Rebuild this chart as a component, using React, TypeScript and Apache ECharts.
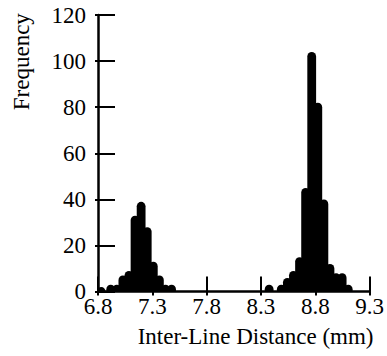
import React, { useEffect, useRef } from "react";
import * as echarts from "echarts";

// Bin centers (mm) and frequencies for the two clusters
const binCenters: number[] = [
  6.83, 6.917, 6.973, 7.029, 7.085, 7.141, 7.197, 7.253, 7.309, 7.365, 7.421, 7.477,
  8.375, 8.487, 8.543, 8.599, 8.655, 8.711, 8.767, 8.823, 8.879, 8.935, 8.991, 9.047, 9.103,
];
const frequencies: number[] = [
  0, 1, 1, 5, 7, 31, 37, 26, 11, 5, 1, 1,
  1, 1, 4, 7, 13, 43, 102, 80, 38, 10, 6, 6, 1,
];
const xTicks: number[] = [6.8, 7.3, 7.8, 8.3, 8.8, 9.3];
const yTicks: number[] = [0, 20, 40, 60, 80, 100, 120];

const FONT = "Liberation Serif";
const FS = 23;

export default function App() {
  const ref = useRef<HTMLDivElement>(null);
  useEffect(() => {
    if (!ref.current) return;
    const chart = echarts.init(ref.current, null, { renderer: "svg" });
    const data = binCenters.map((c, i) => [c, frequencies[i]]);
    const xMin = xTicks[0];
    const xMax = xTicks[xTicks.length - 1];
    const yMin = yTicks[0];
    const yMax = yTicks[yTicks.length - 1];
    const labelStyle = { fontFamily: FONT, fontSize: FS, color: "#000" };
    chart.setOption({
      animation: false,
      backgroundColor: "#fff",
      grid: { left: 98, right: 15, top: 15, bottom: 64.5, containLabel: false },
      xAxis: [
        {
          type: "value",
          min: xMin,
          max: xMax,
          interval: 0.5,
          splitLine: { show: false },
          axisLine: { show: true, onZero: false, lineStyle: { color: "#000", width: 2.5 } },
          axisTick: { show: true, inside: true, length: 15, lineStyle: { color: "#000", width: 2 } },
          axisLabel: { ...labelStyle, margin: 3, formatter: (v: number) => v.toFixed(1) },
        },
        {
          type: "value",
          position: "bottom",
          min: xMin,
          max: xMax,
          interval: 0.5,
          splitLine: { show: false },
          axisLine: { show: false },
          axisTick: { show: true, inside: false, length: 4, lineStyle: { color: "#000", width: 2 } },
          axisLabel: { show: false },
        },
      ],
      yAxis: [
        {
          type: "value",
          min: yMin,
          max: yMax,
          interval: 20,
          splitLine: { show: false },
          axisLine: { show: true, onZero: false, lineStyle: { color: "#000", width: 2.5 } },
          axisTick: { show: true, inside: true, length: 17, lineStyle: { color: "#000", width: 2 } },
          axisLabel: { ...labelStyle, margin: 12 },
        },
        {
          type: "value",
          position: "left",
          min: yMin,
          max: yMax,
          interval: 20,
          splitLine: { show: false },
          axisLine: { show: false },
          axisTick: { show: true, inside: false, length: 3, lineStyle: { color: "#000", width: 2 } },
          axisLabel: { show: false },
        },
      ],
      series: [
        {
          type: "custom",
          xAxisIndex: 0,
          yAxisIndex: 0,
          clip: true,
          data,
          renderItem: (params: any, api: any) => {
            const x = api.value(0);
            const v = api.value(1);
            const p0 = api.coord([x, 0]);
            const p1 = api.coord([x, v]);
            const y2 = p1[1] === p0[1] ? p0[1] - 0.01 : p1[1];
            return {
              type: "line",
              shape: { x1: p0[0], y1: p0[1], x2: p1[0], y2 },
              style: { stroke: "#000", lineWidth: 8.8, lineCap: "round" },
            };
          },
        },
      ],
      graphic: [
        {
          type: "text",
          x: 373.5,
          y: 336,
          style: {
            text: "Inter-Line Distance (mm)",
            fontFamily: FONT,
            fontSize: FS,
            fill: "#000",
            align: "right",
            verticalAlign: "middle",
          },
        },
        {
          type: "text",
          x: 21,
          y: 61.7,
          rotation: Math.PI / 2,
          style: {
            text: "Frequency",
            fontFamily: FONT,
            fontSize: FS,
            fill: "#000",
            align: "center",
            verticalAlign: "middle",
          },
        },
      ],
    });
    return () => chart.dispose();
  }, []);
  return <div ref={ref} style={{ width: 387, height: 356, position: "absolute", left: 0, top: 0 }} />;
}
